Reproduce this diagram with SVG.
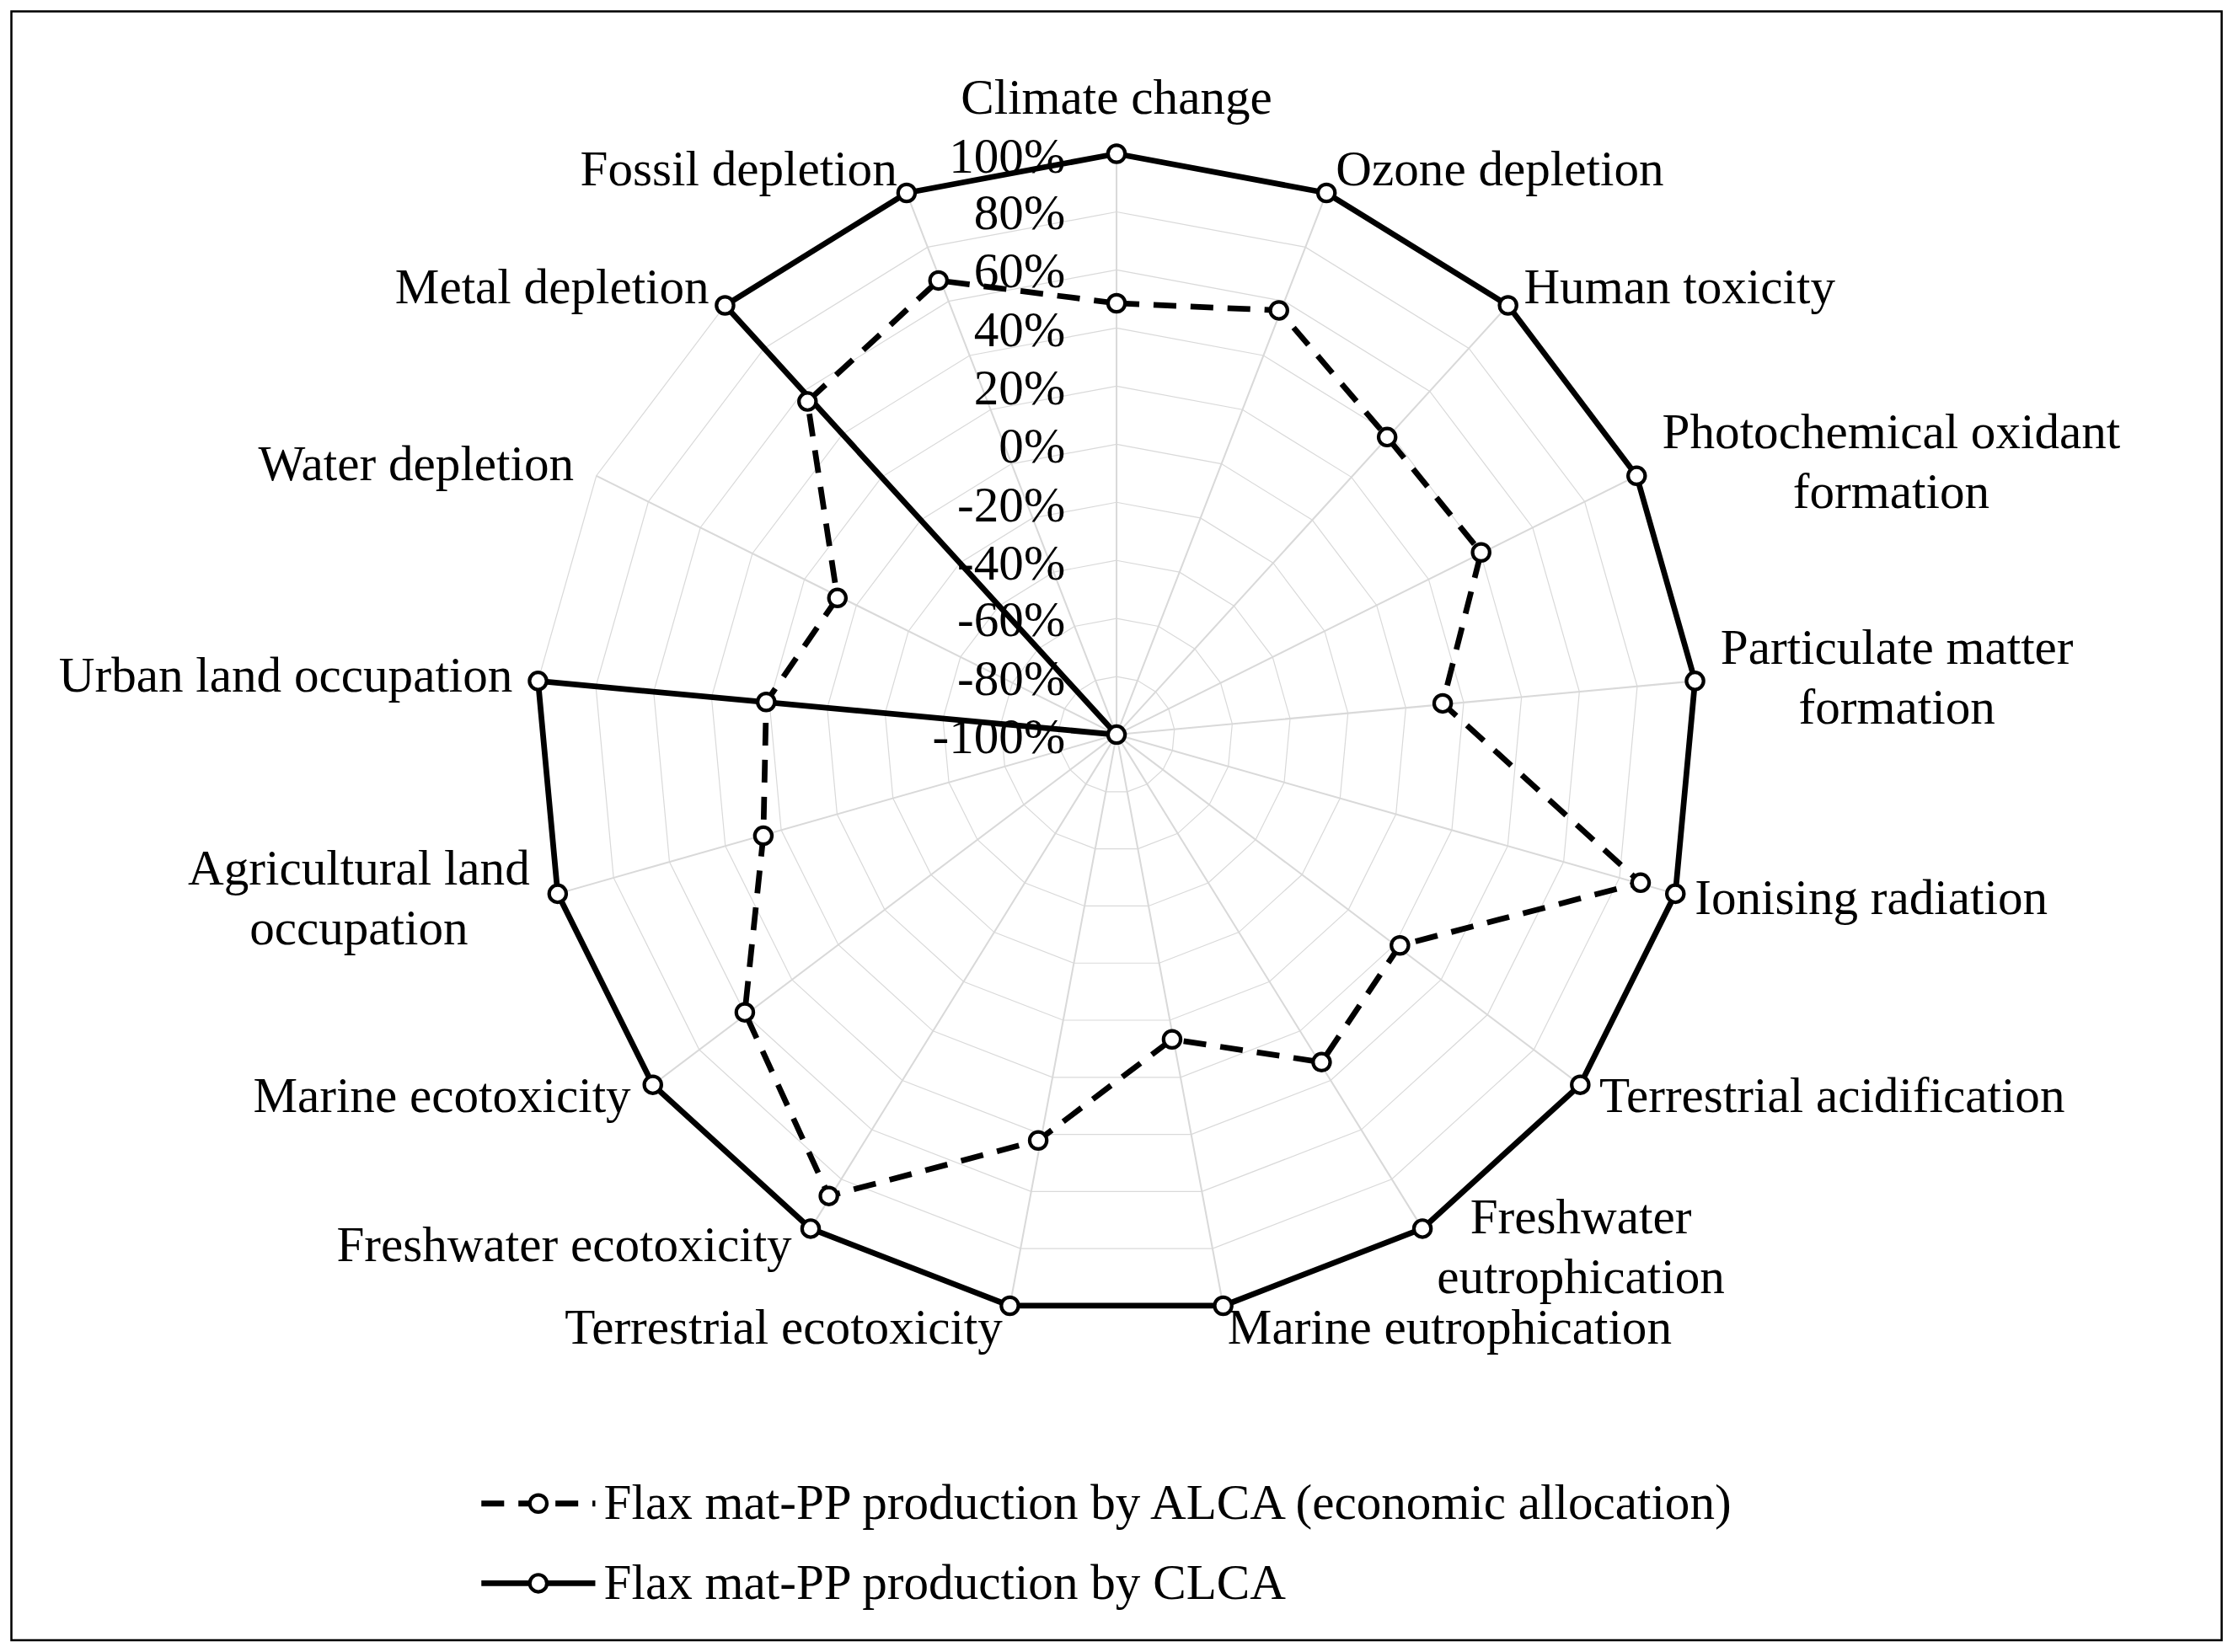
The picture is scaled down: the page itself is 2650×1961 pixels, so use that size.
<svg xmlns="http://www.w3.org/2000/svg" xmlns:xlink="http://www.w3.org/1999/xlink" width="2650" height="1961" viewBox="0 0 2650 1961">
<style>
text{font-family:"Liberation Serif","Times New Roman",serif;font-size:35px;fill:#000}
.tick{text-anchor:end}
.clca{fill:none;stroke:#000;stroke-width:4;stroke-linejoin:round}
.alca{fill:none;stroke:#000;stroke-width:4;stroke-dasharray:16 10;stroke-linejoin:round}
.m{fill:#fff;stroke:#000;stroke-width:2.5}
</style>
<defs>
<polygon id="p17" fill="none" stroke="#d9d9d9" stroke-width="1.2" vector-effect="non-scaling-stroke" points="0,-1 .3612,-.9325 .6737,-.7390 .8952,-.4457 .9957,-.0923 .9618,.2737 .7980,.6026 .5264,.8502 .1837,.9830 -.1837,.9830 -.5264,.8502 -.7980,.6026 -.9618,.2737 -.9957,-.0923 -.8952,-.4457 -.6737,-.7390 -.3612,-.9325"/>
<circle id="mk" r="6" class="m"/>
</defs>
<rect width="2650" height="1961" fill="#fff"/>
<g transform="scale(1.6901)">
<rect x="8" y="8" width="1552" height="1144" fill="none" stroke="#000" stroke-width="1.5"/>
<g id="grid" transform="translate(784,516)">
<use xlink:href="#p17" transform="scale(40.8)"/>
<use xlink:href="#p17" transform="scale(81.6)"/>
<use xlink:href="#p17" transform="scale(122.4)"/>
<use xlink:href="#p17" transform="scale(163.2)"/>
<use xlink:href="#p17" transform="scale(204)"/>
<use xlink:href="#p17" transform="scale(244.8)"/>
<use xlink:href="#p17" transform="scale(285.6)"/>
<use xlink:href="#p17" transform="scale(326.4)"/>
<use xlink:href="#p17" transform="scale(367.2)"/>
<use xlink:href="#p17" transform="scale(408)"/>
<path stroke="#d9d9d9" stroke-width="1.2" d="M0,0L0,-408M0,0L147.4,-380.5M0,0L274.9,-301.5M0,0L365.2,-181.8M0,0L406.2,-37.7M0,0L392.4,111.7M0,0L325.6,245.9M0,0L214.8,346.9M0,0L74.9,401.1M0,0L-74.9,401.1M0,0L-214.8,346.9M0,0L-325.6,245.9M0,0L-392.4,111.7M0,0L-406.2,-37.7M0,0L-365.2,-181.8M0,0L-274.9,-301.5M0,0L-147.4,-380.5"/>
</g>
<g id="ticks" class="tick">
<text x="748" y="121">100%</text><text x="748" y="161">80%</text><text x="748" y="202">60%</text><text x="748" y="243">40%</text><text x="748" y="284">20%</text><text x="748" y="325">0%</text><text x="748" y="366">-20%</text><text x="748" y="407">-40%</text><text x="748" y="447">-60%</text><text x="748" y="488">-80%</text><text x="748" y="529">-100%</text>
</g>
<g id="connectors">
<polygon class="clca" points="784,108 931.4,135.5 1058.9,214.5 1149.2,334.2 1190.2,478.3 1176.4,627.7 1109.6,761.9 998.8,862.9 858.9,917.1 709.1,917.1 569.2,862.9 458.4,761.9 391.6,627.7 377.8,478.3 784,516 509.1,214.5 636.6,135.5"/>
<polygon class="alca" points="784,213 898,218 974,307 1040,388 1013,494 1152,620 983,664 928,746 823,730 729,801 582,840 523,711 536,587 538,493 588,420 567,282 659,197"/>
</g>
<g id="markers">
<use xlink:href="#mk" x="784" y="108"/><use xlink:href="#mk" x="931.4" y="135.5"/><use xlink:href="#mk" x="1058.9" y="214.5"/><use xlink:href="#mk" x="1149.2" y="334.2"/><use xlink:href="#mk" x="1190.2" y="478.3"/><use xlink:href="#mk" x="1176.4" y="627.7"/><use xlink:href="#mk" x="1109.6" y="761.9"/><use xlink:href="#mk" x="998.8" y="862.9"/><use xlink:href="#mk" x="858.9" y="917.1"/><use xlink:href="#mk" x="709.1" y="917.1"/><use xlink:href="#mk" x="569.2" y="862.9"/><use xlink:href="#mk" x="458.4" y="761.9"/><use xlink:href="#mk" x="391.6" y="627.7"/><use xlink:href="#mk" x="377.8" y="478.3"/><use xlink:href="#mk" x="509.1" y="214.5"/><use xlink:href="#mk" x="636.6" y="135.5"/>
<use xlink:href="#mk" x="784" y="213"/><use xlink:href="#mk" x="898" y="218"/><use xlink:href="#mk" x="974" y="307"/><use xlink:href="#mk" x="1040" y="388"/><use xlink:href="#mk" x="1013" y="494"/><use xlink:href="#mk" x="1152" y="620"/><use xlink:href="#mk" x="983" y="664"/><use xlink:href="#mk" x="928" y="746"/><use xlink:href="#mk" x="823" y="730"/><use xlink:href="#mk" x="729" y="801"/><use xlink:href="#mk" x="582" y="840"/><use xlink:href="#mk" x="523" y="711"/><use xlink:href="#mk" x="536" y="587"/><use xlink:href="#mk" x="538" y="493"/><use xlink:href="#mk" x="588" y="420"/><use xlink:href="#mk" x="567" y="282"/><use xlink:href="#mk" x="659" y="197"/>
<use xlink:href="#mk" x="784" y="516"/>
</g>
<g id="labels">
<text x="784" y="80" text-anchor="middle">Climate change</text>
<text x="938" y="130">Ozone depletion</text>
<text x="1070" y="213">Human toxicity</text>
<text x="1328" y="315" text-anchor="middle">Photochemical oxidant</text>
<text x="1328" y="357" text-anchor="middle">formation</text>
<text x="1332" y="466" text-anchor="middle">Particulate matter</text>
<text x="1332" y="508" text-anchor="middle">formation</text>
<text x="1190" y="642">Ionising radiation</text>
<text x="1123" y="781">Terrestrial acidification</text>
<text x="1110" y="866" text-anchor="middle">Freshwater</text>
<text x="1110" y="908" text-anchor="middle">eutrophication</text>
<text x="862" y="944">Marine eutrophication</text>
<text x="704" y="944" text-anchor="end">Terrestrial ecotoxicity</text>
<text x="556" y="886" text-anchor="end">Freshwater ecotoxicity</text>
<text x="443" y="781" text-anchor="end">Marine ecotoxicity</text>
<text x="252" y="621" text-anchor="middle">Agricultural land</text>
<text x="252" y="663" text-anchor="middle">occupation</text>
<text x="360" y="486" text-anchor="end">Urban land occupation</text>
<text x="403" y="337" text-anchor="end">Water depletion</text>
<text x="498" y="213" text-anchor="end">Metal depletion</text>
<text x="630" y="130" text-anchor="end">Fossil depletion</text>
</g>
<g id="legend">
<line x1="338" y1="1056" x2="418" y2="1056" stroke="#000" stroke-width="4" stroke-dasharray="16 10"/>
<use xlink:href="#mk" x="378" y="1056"/>
<text x="424" y="1067">Flax mat-PP production by ALCA (economic allocation)</text>
<line x1="338" y1="1112" x2="418" y2="1112" stroke="#000" stroke-width="4"/>
<use xlink:href="#mk" x="378" y="1112"/>
<text x="424" y="1123">Flax mat-PP production by CLCA</text>
</g>
</g>
</svg>
